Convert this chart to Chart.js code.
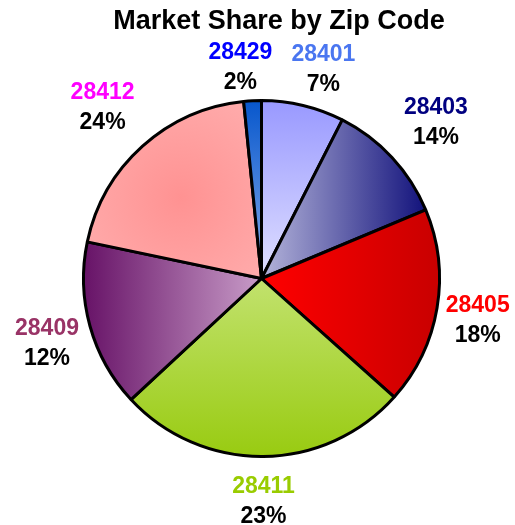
<!DOCTYPE html>
<html>
<head>
<meta charset="utf-8">
<script src="https://cdn.jsdelivr.net/npm/chart.js@4/dist/chart.umd.min.js"></script>
<style>
  body { margin: 0; background: #fff; }
  canvas { display: block; }
</style>
</head>
<body>
<canvas id="shareChart" width="515" height="525"></canvas>
<script>
const chartTitle = 'Market Share by Zip Code';
const zipCodes = ['28401', '28403', '28405', '28411', '28409', '28412', '28429'];
// slice sizes as drawn (estimated from angles)
const shareValues = [7.5, 11.2, 17.9, 26.5, 15.2, 20.1, 1.6];
// percentages as printed on the labels
const shareLabels = ['7%', '14%', '18%', '23%', '12%', '24%', '2%'];
const zipColors = ['#4a76f0', '#000080', '#ff0000', '#99cc00', '#993366', '#ff00ff', '#0000ff'];

const FONT = '"Liberation Sans", Arial, Helvetica, sans-serif';

// gradient fill for each slice, built on the pie geometry
function sliceFill(ctx, i, a) {
    const cx = (a.left + a.right) / 2, cy = (a.top + a.bottom) / 2;
    const r = Math.min(a.width, a.height) / 2;
    let g;
    switch (i) {
        case 0:
            g = ctx.createLinearGradient(0, cy - r, 0, cy);
            g.addColorStop(0, '#9898ff'); g.addColorStop(1, '#e0e0ff');
            break;
        case 1:
            g = ctx.createLinearGradient(cx, 0, cx + r * 0.95, 0);
            g.addColorStop(0, '#b4b4da'); g.addColorStop(1, '#0c0c78');
            break;
        case 2:
            g = ctx.createLinearGradient(cx, 0, cx + r, 0);
            g.addColorStop(0, '#ff0000'); g.addColorStop(1, '#c80000');
            break;
        case 3:
            g = ctx.createLinearGradient(0, cy, 0, cy + r);
            g.addColorStop(0, '#c2e26e'); g.addColorStop(1, '#98cb10');
            break;
        case 4:
            g = ctx.createLinearGradient(cx - r, 0, cx, 0);
            g.addColorStop(0, '#661166'); g.addColorStop(1, '#c89cc8');
            break;
        case 5:
            g = ctx.createRadialGradient(cx - r * 0.45, cy - r * 0.45, 0, cx - r * 0.45, cy - r * 0.45, r * 0.75);
            g.addColorStop(0, '#ff9292'); g.addColorStop(1, '#ffb0b0');
            break;
        default:
            g = ctx.createLinearGradient(0, cy - r, 0, cy);
            g.addColorStop(0, '#0656cc'); g.addColorStop(1, '#86acea');
    }
    return g;
}

const labelPlugin = {
    id: 'zipLabels',
    afterDraw(chart) {
        const ctx = chart.ctx;
        const meta = chart.getDatasetMeta(0);
        ctx.save();
        ctx.textAlign = 'center';
        ctx.textBaseline = 'middle';
        ctx.fillStyle = '#000';
        ctx.font = 'bold 27px ' + FONT;
        ctx.fillText(chartTitle, 279, 22);

        ctx.font = 'bold 23px ' + FONT;
        const boxes = meta.data.map((arc, i) => {
            const p = arc.getProps(['x', 'y', 'startAngle', 'endAngle'], true);
            const mid = (p.startAngle + p.endAngle) / 2;
            const s = Math.sin(2 * mid);
            const d = 217 + 21 * s * s;
            const w = Math.max(ctx.measureText(zipCodes[i]).width, ctx.measureText(shareLabels[i]).width);
            return { x: p.x + d * Math.cos(mid), y: p.y + d * Math.sin(mid) + 6, w: w };
        });
        // push apart labels that sit too close side by side
        const gap = 19;
        for (let i = 0; i < boxes.length; i++) {
            for (let j = i + 1; j < boxes.length; j++) {
                const a = boxes[i], b = boxes[j];
                if (Math.abs(a.y - b.y) > 48) continue;
                const [l, r] = a.x < b.x ? [a, b] : [b, a];
                const space = (r.x - r.w / 2) - (l.x + l.w / 2);
                if (space < gap) {
                    const shift = (gap - space) / 2;
                    l.x -= shift;
                    r.x += shift;
                }
            }
        }
        boxes.forEach((b, i) => {
            ctx.fillStyle = zipColors[i];
            ctx.fillText(zipCodes[i], b.x, b.y - 15);
            ctx.fillStyle = '#000';
            ctx.fillText(shareLabels[i], b.x, b.y + 15);
        });
        ctx.restore();
    }
};

new Chart(document.getElementById('shareChart').getContext('2d'), {
    type: 'pie',
    data: {
        labels: zipCodes,
        datasets: [{
            data: shareValues,
            backgroundColor: (c) => {
                const a = c.chart.chartArea;
                if (!a) return '#cccccc';
                return sliceFill(c.chart.ctx, c.dataIndex, a);
            },
            borderColor: '#000000',
            borderWidth: 3
        }]
    },
    options: {
        responsive: false,
        animation: false,
        layout: { padding: { left: 82, right: 74, top: 99, bottom: 67 } },
        plugins: {
            legend: { display: false },
            title: { display: false },
            tooltip: { enabled: false }
        }
    },
    plugins: [labelPlugin]
});
</script>
</body>
</html>
